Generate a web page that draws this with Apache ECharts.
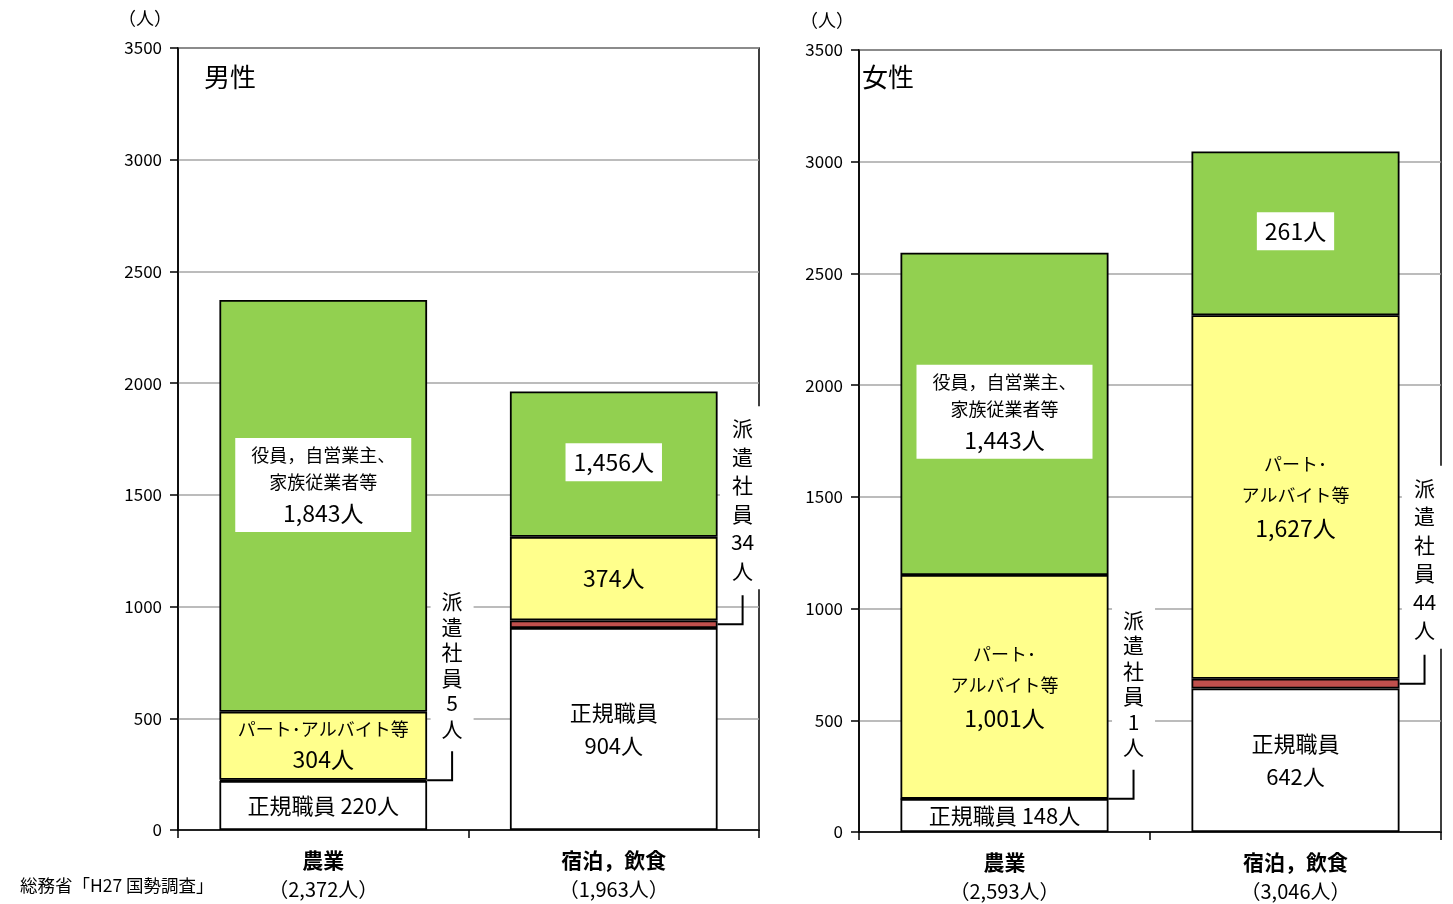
<!DOCTYPE html>
<html>
<head>
<meta charset="utf-8">
<script src="https://cdn.jsdelivr.net/npm/echarts@6/dist/echarts.min.js"></script>
<style>
html,body{margin:0;padding:0;background:#fff;}
#chart{width:1453px;height:904px;}
</style>
</head>
<body>
<div id="chart"></div>
<script>
// ---- data ----
const categories = ['農業', '宿泊，飲食'];
const maleTotals = [2372, 1963];
const femaleTotals = [2593, 3046];

const maleRegular = [220, 904];
const maleDispatch = [5, 34];
const malePart = [304, 374];
const maleExec = [1843, 651];        // drawn height
const maleExecLabel = [1843, 1456];  // printed label

const femaleRegular = [148, 642];
const femaleDispatch = [1, 44];
const femalePart = [1001, 1627];
const femaleExec = [1443, 733];        // drawn height
const femaleExecLabel = [1443, 261];   // printed label

const yTicks = [0, 500, 1000, 1500, 2000, 2500, 3000, 3500];

// ---- styles ----
const FF = '"Noto Sans CJK JP", "Noto Sans", sans-serif';
const fmt = n => n.toLocaleString('en-US');
const C_WHITE = '#ffffff', C_RED = '#c0504d', C_YELLOW = '#ffff8c', C_GREEN = '#92d050';

const chart = echarts.init(document.getElementById('chart'));

function yAxis(g) {
  return {
    type: 'value', gridIndex: g, min: yTicks[0], max: yTicks[yTicks.length - 1], interval: 500,
    axisLine: {show: true, lineStyle: {color: '#000', width: 1.5}},
    axisTick: {show: true, length: 8, lineStyle: {color: '#000', width: 1.5}},
    axisLabel: {color: '#000', fontSize: 17, margin: 16, fontFamily: FF, formatter: v => String(v)},
    splitLine: {show: true, lineStyle: {color: '#a6a6a6', width: 1.5}}
  };
}
function xAxis(g, totals) {
  return {
    type: 'category', gridIndex: g, data: categories,
    axisLine: {lineStyle: {color: '#000', width: 1.5}},
    axisTick: {show: true, length: 8, lineStyle: {color: '#000', width: 1.5}},
    axisLabel: {
      margin: 16, interval: 0,
      formatter: (v, i) => `{c|${v}}\n{t|（${fmt(totals[i])}人）}`,
      rich: {
        c: {fontSize: 21, lineHeight: 29, color: '#000', fontFamily: FF, fontWeight: 'bold'},
        t: {fontSize: 20, lineHeight: 29, color: '#000', fontFamily: FF}
      }
    }
  };
}

const rich = {
  s: {fontSize: 18, lineHeight: 27, color: '#000', fontFamily: FF},
  p: {fontSize: 18, lineHeight: 31, color: '#000', fontFamily: FF},
  n: {fontSize: 23, lineHeight: 34, color: '#000', fontFamily: FF},
  m: {fontSize: 22, lineHeight: 33, color: '#000', fontFamily: FF}
};

function makeSeries(g, reg, dis, part, exec, execLabel, female) {
  const stack = 'st' + g;
  const base = {
    type: 'bar', stack, xAxisIndex: g, yAxisIndex: g, barWidth: '71.5%',
    emphasis: {disabled: true}
  };
  const border = {borderColor: '#000', borderWidth: 1.8};
  const regData = reg.map((v, i) => ({
    value: v,
    label: {
      show: true, position: 'inside', rich,
      formatter: i === 0 ? `{m|正規職員 ${fmt(v)}人}` : `{m|正規職員}\n{m|${fmt(v)}人}`
    }
  }));
  const partData = part.map((v, i) => {
    let f;
    if (female) f = `{p|パート･}\n{p|アルバイト等}\n{n|${fmt(v)}人}`;
    else if (i === 0) f = `{s|パート･アルバイト等}\n{n|${fmt(v)}人}`;
    else f = `{n|${fmt(v)}人}`;
    return {value: v, label: {show: true, position: 'inside', rich, formatter: f}};
  });
  const execData = exec.map((v, i) => {
    const t = fmt(execLabel[i]);
    const long = i === 0;
    return {
      value: v,
      label: {
        show: true, position: 'inside', rich,
        backgroundColor: '#fff',
        offset: (long && !female) ? [0, -21] : [0, -2],
        padding: long ? [4, 16, 2, 16] : [2, 8, 2, 8],
        formatter: long ? `{s|役員，自営業主、}\n{s|家族従業者等}\n{n|${t}人}` : `{n|${t}人}`
      }
    };
  });
  return [
    Object.assign({}, base, {name: '正規職員', data: regData, itemStyle: Object.assign({color: C_WHITE}, border)}),
    Object.assign({}, base, {name: '派遣社員', data: dis, itemStyle: Object.assign({color: C_RED}, border)}),
    Object.assign({}, base, {name: 'パート・アルバイト等', data: partData, itemStyle: Object.assign({color: C_YELLOW}, border)}),
    Object.assign({}, base, {name: '役員，自営業主、家族従業者等', data: execData, itemStyle: Object.assign({color: C_GREEN}, border)}),
    {
      type: 'custom', xAxisIndex: g, yAxisIndex: g, z: 10, clip: false, silent: true,
      data: categories.map((c, i) => [i, reg[i], dis[i]]),
      encode: {x: 0, y: 1},
      renderItem: function (params, api) {
        const i = api.value(0), r = api.value(1), d = api.value(2);
        const mid = api.coord([i, r + d / 2]);
        const bw = api.size([1, 0])[0] * 0.715;
        const xr = mid[0] + bw / 2, xe = xr + 25, yTop = mid[1] - 29;
        const lh = i === 0 ? 25.5 : 28.5;
        return {
          type: 'group',
          children: [
            {type: 'polyline', shape: {points: [[xr, mid[1]], [xe, mid[1]], [xe, yTop]]},
              style: {stroke: '#000', lineWidth: 2, fill: null}},
            {type: 'text', x: xe, y: yTop - 6,
              style: {text: '派\n遣\n社\n員\n' + d + '\n人', align: 'center', verticalAlign: 'bottom',
                fontSize: 21, lineHeight: lh, fill: '#000', backgroundColor: '#fff',
                padding: [8, 11, 4, 11], fontFamily: FF}}
          ]
        };
      }
    }
  ];
}

const option = {
  backgroundColor: '#fff',
  animation: false,
  grid: [
    {left: 178, top: 48, width: 581, height: 782, show: true, borderColor: '#000', borderWidth: 1.5, backgroundColor: 'transparent'},
    {left: 859, top: 50, width: 582, height: 782, show: true, borderColor: '#000', borderWidth: 1.5, backgroundColor: 'transparent'}
  ],
  xAxis: [xAxis(0, maleTotals), xAxis(1, femaleTotals)],
  yAxis: [yAxis(0), yAxis(1)],
  graphic: [
    {type: 'text', left: 204, top: 64, style: {text: '男性', fontSize: 26, fill: '#000', fontFamily: FF}},
    {type: 'text', left: 862, top: 64, style: {text: '女性', fontSize: 26, fill: '#000', fontFamily: FF}},
    {type: 'text', left: 118, top: 9, style: {text: '（人）', fontSize: 18, fill: '#000', fontFamily: FF}},
    {type: 'text', left: 800, top: 11, style: {text: '（人）', fontSize: 18, fill: '#000', fontFamily: FF}},
    {type: 'text', left: 20, top: 877, style: {text: '総務省「H27 国勢調査」', fontSize: 17.5, fill: '#000', fontFamily: FF}}
  ],
  series: [].concat(
    makeSeries(0, maleRegular, maleDispatch, malePart, maleExec, maleExecLabel, false),
    makeSeries(1, femaleRegular, femaleDispatch, femalePart, femaleExec, femaleExecLabel, true)
  )
};
chart.setOption(option);
</script>
</body>
</html>
